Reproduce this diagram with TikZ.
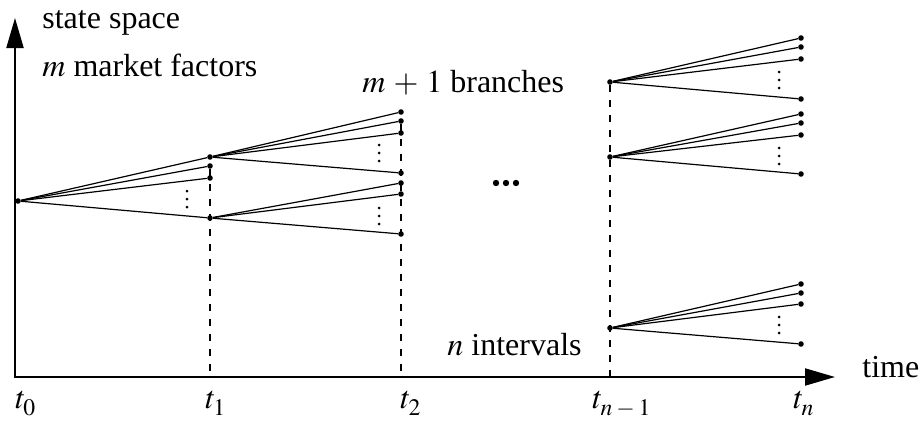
\documentclass[tikz,border=0pt]{standalone}
\usepackage{mathptmx}
\usepackage{fontspec}
\setmainfont{Liberation Serif}
\usetikzlibrary{arrows.meta}
\newcommand{\tsub}[1]{$t_{\lower1.5pt\hbox{$\scriptstyle #1$}}$}

\begin{document}
\begin{tikzpicture}[x=0.5pt,y=-0.5pt,
  font=\fontsize{16}{19}\selectfont,
  pt/.style={circle,fill,inner sep=0pt,minimum size=2.8pt},
  txt/.style={anchor=base west,inner sep=0pt},
  axis/.style={line width=1pt,-{Triangle[length=15pt,width=8.5pt]}},
  branch/.style={line width=0.6pt},
  guide/.style={line width=1pt,dash pattern=on 3.5pt off 4pt}]
\useasboundingbox (0,0) rectangle (922,423);

\coordinate (o) at (15,378);
\coordinate (ytip) at (15,18);
\coordinate (xtip) at (835,377);
\draw[axis] (o) -- (ytip);
\draw[axis] (15,377) -- (xtip);

\node[txt] (ylab) at (42,28) {state space};
\node[txt] (mlab) at (42,76) {$m$ market factors};
\node[txt] (blab) at (362,92) {$m\mskip2mu+\mskip2mu1$ branches};
\node[txt] (nlab) at (447,355) {$n$ intervals};
\node[txt] (xlab) at (862,377) {time};

\node[txt] (t0) at (15,408) {\tsub{0}};
\node[txt] (t1) at (205,408) {\tsub{1}};
\node[txt] (t2) at (400,408) {\tsub{2}};
\node[txt] (tm) at (592,408) {\tsub{n\mskip3mu-\mskip3mu1}};
\node[txt] (tn) at (793,408) {\tsub{n}};

\foreach \n/\x/\y in {r/18/201,
    a1/210/157, a2/210/166, a3/210/178, a4/210/218,
    b1/401/112, b2/401/121, b3/401/133, b4/401/173,
    b5/401/183, b6/401/194, b7/401/234,
    c1/610/82, c2/610/157, c3/610/328,
    d1/801/38, d2/801/47, d3/801/59, d4/801/99,
    d5/801/114, d6/801/123, d7/801/135, d8/801/174,
    d9/801/284, d10/801/293, d11/801/304, d12/801/344}
  \node[pt] (\n) at (\x,\y) {};

\coordinate (g1) at (210,377);
\coordinate (g2) at (401,377);
\coordinate (g3) at (610,377);
\draw[guide] (a2) -- (g1);
\draw[guide] (b2) -- (g2);
\draw[guide] (c1) -- (g3);

\foreach \s/\e in {r/a1, r/a2, r/a3, r/a4,
    a1/b1, a1/b2, a1/b3, a1/b4, a4/b5, a4/b6, a4/b7,
    c1/d1, c1/d2, c1/d3, c1/d4, c2/d5, c2/d6, c2/d7, c2/d8,
    c3/d9, c3/d10, c3/d11, c3/d12}
  \draw[branch] (\s) -- (\e);

\foreach \x/\y in {187/199, 379/153, 379/216, 779/80, 779/156, 779/325}
  \foreach \d in {-8,0,8}
    \fill (\x,\y+\d) circle[radius=0.75pt];

\foreach \x in {496,506,516}
  \fill (\x,183) circle[radius=1.6pt];
\end{tikzpicture}
\end{document}
